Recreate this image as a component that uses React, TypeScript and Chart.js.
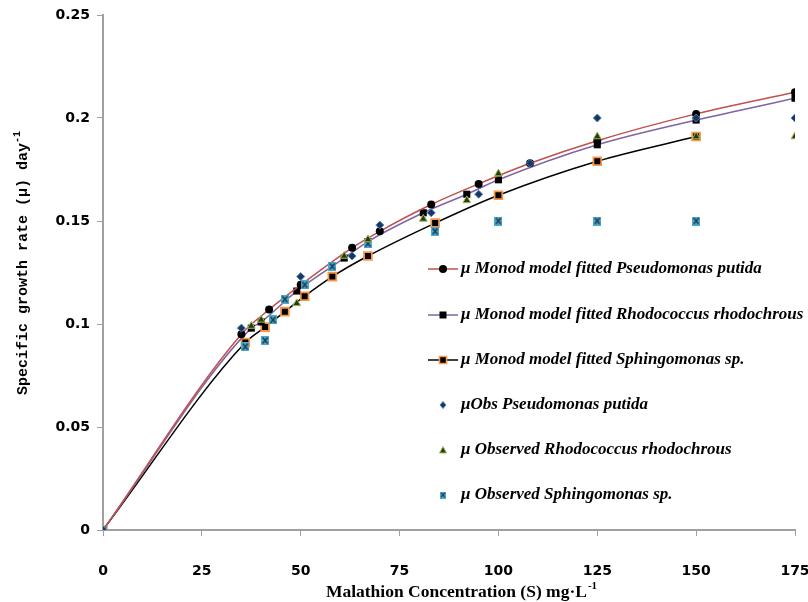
import React, { useEffect, useRef } from 'react';
import { Chart, registerables } from 'chart.js';

Chart.register(...registerables);

// ---- Data ----
const S_PSEUDO_FIT = [0, 35, 42, 50, 63, 70, 83, 95, 108, 125, 150, 175];
const MU_PSEUDO_FIT = [0, 0.095, 0.107, 0.119, 0.137, 0.145, 0.158, 0.168, 0.178, 0.189, 0.202, 0.2125];

const S_RHOD_FIT = [0, 37.5, 40, 49, 61, 67, 81, 92, 100, 125, 150, 175];
const MU_RHOD_FIT = [0, 0.098, 0.101, 0.116, 0.132, 0.14, 0.154, 0.163, 0.17, 0.187, 0.199, 0.2096];

const S_SPH_FIT = [0, 36, 41, 46, 51, 58, 67, 84, 100, 125, 150];
const MU_SPH_FIT = [0, 0.091, 0.0985, 0.106, 0.1135, 0.123, 0.133, 0.149, 0.1625, 0.179, 0.191];

const S_PSEUDO_OBS = [0, 35, 50, 63, 70, 83, 95, 108, 125, 150, 175];
const MU_PSEUDO_OBS = [0, 0.098, 0.123, 0.133, 0.148, 0.154, 0.163, 0.178, 0.2, 0.2, 0.2];

const S_RHOD_OBS = [0, 37.5, 40, 49, 61, 67, 81, 92, 100, 125, 150, 175];
const MU_RHOD_OBS = [0, 0.099, 0.102, 0.11, 0.133, 0.141, 0.151, 0.16, 0.173, 0.191, 0.191, 0.191];

const S_SPH_OBS = [0, 36, 41, 43, 46, 51, 58, 67, 84, 100, 125, 150];
const MU_SPH_OBS = [0, 0.089, 0.092, 0.102, 0.112, 0.119, 0.128, 0.139, 0.145, 0.15, 0.15, 0.15];

const X_TICKS = [0, 25, 50, 75, 100, 125, 150, 175];
const Y_TICKS = [0, 0.05, 0.1, 0.15, 0.2, 0.25];
const Y_TICK_LABELS = ['0', '0.05', '0.1', '0.15', '0.2', '0.25'];

const LEGEND_LABELS = [
  'μ Monod model fitted Pseudomonas putida',
  'μ Monod model fitted Rhodococcus rhodochrous',
  'μ Monod model fitted Sphingomonas sp.',
  'μObs Pseudomonas putida',
  'μ Observed Rhodococcus rhodochrous',
  'μ Observed Sphingomonas sp.',
];

const X_TITLE = 'Malathion Concentration (S) mg·L';
const Y_TITLE = 'Specific growth rate (µ) day';
const SUP = '-1';

const zip = (xs: number[], ys: number[]) => xs.map((x, i) => ({ x, y: ys[i] }));

function makeSphObsMarker(): HTMLCanvasElement {
  const c = document.createElement('canvas');
  c.width = 8;
  c.height = 9;
  const g = c.getContext('2d')!;
  g.fillStyle = '#4BACC6';
  g.fillRect(0, 0, 8, 9);
  g.strokeStyle = '#1F3A5F';
  g.lineWidth = 1.6;
  g.beginPath();
  g.moveTo(1.5, 1.5);
  g.lineTo(6.5, 7.5);
  g.moveTo(6.5, 1.5);
  g.lineTo(1.5, 7.5);
  g.stroke();
  return c;
}

export default function App() {
  const ref = useRef<HTMLCanvasElement | null>(null);

  useEffect(() => {
    if (!ref.current) return;
    const sphMarker = makeSphObsMarker();

    const overlay = {
      id: 'overlay',
      afterDraw(chart: any) {
        const ctx: CanvasRenderingContext2D = chart.ctx;
        ctx.save();
        // ----- legend -----
        const rowsY = [269, 315, 360, 405, 450, 495];
        const mx = 443;
        const tx = 461;
        ctx.font = 'bold italic 17px "Liberation Serif", serif';
        ctx.textBaseline = 'middle';
        ctx.textAlign = 'left';
        rowsY.forEach((y, i) => {
          if (i < 3) {
            ctx.strokeStyle = ['#C0504D', '#8064A2', '#000000'][i];
            ctx.lineWidth = 1.5;
            ctx.beginPath();
            ctx.moveTo(428, y);
            ctx.lineTo(458, y);
            ctx.stroke();
          }
          if (i === 0) {
            ctx.fillStyle = '#000';
            ctx.beginPath();
            ctx.arc(mx, y, 4, 0, Math.PI * 2);
            ctx.fill();
          } else if (i === 1) {
            ctx.fillStyle = '#000';
            ctx.fillRect(mx - 3.5, y - 3.5, 7, 7);
          } else if (i === 2) {
            ctx.fillStyle = '#000';
            ctx.fillRect(mx - 3.5, y - 3.5, 7, 7);
            ctx.strokeStyle = '#F79646';
            ctx.lineWidth = 1.5;
            ctx.strokeRect(mx - 3.5, y - 3.5, 7, 7);
          } else if (i === 3) {
            ctx.fillStyle = '#17375E';
            ctx.strokeStyle = '#4F81BD';
            ctx.lineWidth = 1;
            ctx.beginPath();
            ctx.moveTo(mx, y - 3.5);
            ctx.lineTo(mx + 3, y);
            ctx.lineTo(mx, y + 3.5);
            ctx.lineTo(mx - 3, y);
            ctx.closePath();
            ctx.fill();
            ctx.stroke();
          } else if (i === 4) {
            ctx.fillStyle = '#2B3A12';
            ctx.strokeStyle = '#9BBB59';
            ctx.lineWidth = 1;
            ctx.beginPath();
            ctx.moveTo(mx, y - 3.5);
            ctx.lineTo(mx + 3.5, y + 3);
            ctx.lineTo(mx - 3.5, y + 3);
            ctx.closePath();
            ctx.fill();
            ctx.stroke();
          } else {
            ctx.drawImage(sphMarker, mx - 3, y - 3.5, 6, 7);
          }
          ctx.fillStyle = '#000';
          ctx.fillText(LEGEND_LABELS[i], tx, y);
        });

        // ----- x title with superscript -----
        ctx.fillStyle = '#000';
        const mainFont = 'bold 17.5px "Liberation Serif", serif';
        const supFont = 'bold 11px "Liberation Serif", serif';
        ctx.font = mainFont;
        const w1 = ctx.measureText(X_TITLE).width;
        ctx.font = supFont;
        const w2 = ctx.measureText(SUP).width;
        const xc = 461;
        const x0 = xc - (w1 + w2) / 2;
        ctx.textAlign = 'left';
        ctx.textBaseline = 'alphabetic';
        ctx.font = mainFont;
        ctx.fillText(X_TITLE, x0, 597);
        ctx.font = supFont;
        ctx.fillText(SUP, x0 + w1 + 1, 589);

        // ----- y title with superscript -----
        ctx.translate(22, 263);
        ctx.rotate(-Math.PI / 2);
        const yMain = 'bold 15px "Liberation Mono", monospace';
        const ySup = 'bold 10px "Liberation Mono", monospace';
        ctx.font = yMain;
        const v1 = ctx.measureText(Y_TITLE).width;
        ctx.font = ySup;
        const v2 = ctx.measureText(SUP).width;
        const y0 = -(v1 + v2) / 2;
        ctx.font = yMain;
        ctx.fillText(Y_TITLE, y0, 5);
        ctx.font = ySup;
        ctx.fillText(SUP, y0 + v1, -2);
        ctx.restore();
      },
    };

    const tickFont = { family: '"DejaVu Sans", sans-serif', size: 14, weight: 'bold' as const };

    const chart = new Chart(ref.current, {
      type: 'scatter',
      data: {
        datasets: [
          {
            label: LEGEND_LABELS[3],
            data: zip(S_PSEUDO_OBS, MU_PSEUDO_OBS),
            pointStyle: 'rectRot',
            pointRadius: 4,
            backgroundColor: '#17375E',
            borderColor: '#4F81BD',
            borderWidth: 1,
            order: 0,
          },
          {
            label: LEGEND_LABELS[4],
            data: zip(S_RHOD_OBS, MU_RHOD_OBS),
            pointStyle: 'triangle',
            pointRadius: 4.5,
            backgroundColor: '#2B3A12',
            borderColor: '#9BBB59',
            borderWidth: 1,
            order: 0,
          },
          {
            label: LEGEND_LABELS[5],
            data: zip(S_SPH_OBS, MU_SPH_OBS),
            pointStyle: sphMarker,
            order: 0,
          },
          {
            label: LEGEND_LABELS[0],
            data: zip(S_PSEUDO_FIT, MU_PSEUDO_FIT),
            showLine: true,
            borderColor: '#C0504D',
            borderWidth: 1.5,
            cubicInterpolationMode: 'monotone',
            pointStyle: 'circle',
            pointRadius: 4,
            pointBackgroundColor: '#000',
            pointBorderColor: '#000',
            pointBorderWidth: 0,
            order: 1,
          },
          {
            label: LEGEND_LABELS[1],
            data: zip(S_RHOD_FIT, MU_RHOD_FIT),
            showLine: true,
            borderColor: '#8064A2',
            borderWidth: 1.5,
            cubicInterpolationMode: 'monotone',
            pointStyle: 'rect',
            pointRadius: 5,
            pointBackgroundColor: '#000',
            pointBorderColor: '#000',
            pointBorderWidth: 0,
            order: 1,
          },
          {
            label: LEGEND_LABELS[2],
            data: zip(S_SPH_FIT, MU_SPH_FIT),
            showLine: true,
            borderColor: '#000000',
            borderWidth: 1.5,
            cubicInterpolationMode: 'monotone',
            pointStyle: 'rect',
            pointRadius: 5.5,
            pointBackgroundColor: '#000',
            pointBorderColor: '#F79646',
            pointBorderWidth: 1.8,
            order: 1,
          },
        ] as any,
      },
      options: {
        animation: false,
        responsive: true,
        maintainAspectRatio: false,
        events: [],
        layout: { padding: { top: 15, right: 13, left: 0, bottom: 0 } },
        plugins: {
          legend: { display: false },
          tooltip: { enabled: false },
          title: { display: false },
        },
        scales: {
          x: {
            type: 'linear',
            min: 0,
            max: 175,
            afterBuildTicks: (scale: any) => {
              scale.ticks = X_TICKS.map((v) => ({ value: v }));
            },
            afterFit: (scale: any) => {
              scale.height = 72;
              scale.paddingLeft = 0;
              scale.paddingRight = 0;
            },
            ticks: {
              font: tickFont,
              color: '#000',
              padding: 27,
              maxRotation: 0,
              callback: (v: any) => String(v),
            },
            grid: {
              display: true,
              drawOnChartArea: false,
              drawTicks: true,
              tickLength: 6,
              color: '#A0A0A0',
            },
            border: { display: true, color: '#A0A0A0', width: 2 },
          },
          y: {
            type: 'linear',
            min: 0,
            max: 0.25,
            afterBuildTicks: (scale: any) => {
              scale.ticks = Y_TICKS.map((v) => ({ value: v }));
            },
            afterFit: (scale: any) => {
              scale.width = 103;
              scale.paddingTop = 0;
              scale.paddingBottom = 0;
            },
            ticks: {
              font: tickFont,
              color: '#000',
              padding: 7,
              callback: (_v: any, i: number) => Y_TICK_LABELS[i],
            },
            grid: {
              display: true,
              drawOnChartArea: false,
              drawTicks: true,
              tickLength: 6,
              color: '#A0A0A0',
            },
            border: { display: true, color: '#A0A0A0', width: 2 },
          },
        },
      },
      plugins: [overlay],
    });

    return () => chart.destroy();
  }, []);

  return (
    <div style={{ position: 'absolute', left: 0, top: 0, width: 808, height: 602, background: '#fff' }}>
      <canvas ref={ref} />
    </div>
  );
}
